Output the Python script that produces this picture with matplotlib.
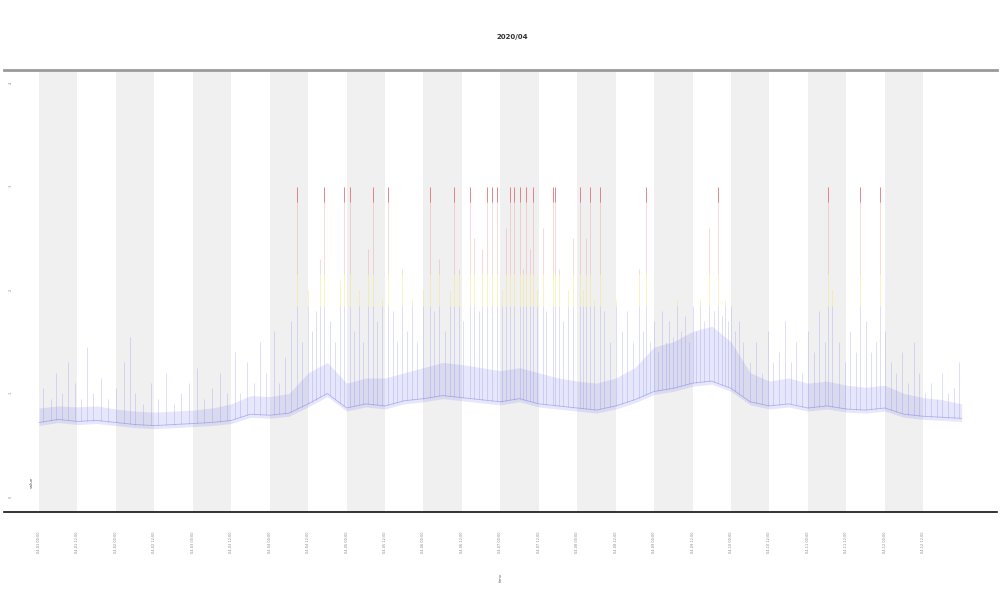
import numpy as np
import matplotlib
matplotlib.use("Agg")
import matplotlib.pyplot as plt

# ---------------- data (x in days, y in value units) ----------------
title_text = "2020/04"
x_label = "time"
y_label = "value"
legend_text = "value"

base_t = [i * 0.25 for i in range(49)]
base_v = [0.72, 0.75, 0.73, 0.74, 0.72, 0.70, 0.69, 0.70, 0.71, 0.72,
          0.74, 0.80, 0.79, 0.81, 0.90, 1.00, 0.86, 0.90, 0.88, 0.93,
          0.95, 0.98, 0.96, 0.94, 0.92, 0.95, 0.90, 0.88, 0.86, 0.84,
          0.88, 0.94, 1.02, 1.05, 1.10, 1.12, 1.05, 0.92, 0.88, 0.90,
          0.86, 0.88, 0.85, 0.84, 0.86, 0.80, 0.78, 0.77, 0.76]
env_v = [0.86, 0.88, 0.87, 0.88, 0.85, 0.83, 0.82, 0.83, 0.84, 0.86,
         0.90, 0.98, 0.97, 1.00, 1.20, 1.30, 1.10, 1.15, 1.15, 1.20,
         1.25, 1.30, 1.28, 1.25, 1.22, 1.25, 1.20, 1.15, 1.12, 1.10,
         1.15, 1.25, 1.45, 1.50, 1.60, 1.65, 1.50, 1.20, 1.12, 1.15,
         1.10, 1.12, 1.08, 1.06, 1.08, 1.00, 0.96, 0.94, 0.90]

spike_t = [0.05, 0.15, 0.22, 0.30, 0.38, 0.47, 0.55, 0.62, 0.70, 0.80, 0.90, 1.00, 1.10, 1.18,
           1.25, 1.35, 1.45, 1.55, 1.65, 1.75, 1.85, 1.95, 2.05, 2.15, 2.25, 2.35, 2.45,
           2.55, 2.62, 2.70, 2.80, 2.88, 2.95, 3.05, 3.12, 3.20, 3.28, 3.35, 3.42,
           3.50, 3.55, 3.60, 3.66, 3.71, 3.78, 3.85, 3.92, 3.97,
           4.04, 4.10, 4.16, 4.22, 4.28, 4.34, 4.40, 4.46, 4.54, 4.60, 4.66, 4.72, 4.78, 4.85,
           4.92, 5.00, 5.08, 5.14, 5.20, 5.28, 5.34, 5.40, 5.46, 5.52, 5.60, 5.66, 5.72, 5.76,
           5.82, 5.89, 5.95, 6.02, 6.07, 6.12, 6.18, 6.25, 6.30, 6.34, 6.38, 6.42, 6.48, 6.55,
           6.60, 6.68, 6.71, 6.76, 6.82, 6.88, 6.95, 7.03, 7.08, 7.12, 7.16, 7.22, 7.29, 7.35,
           7.42, 7.50, 7.58, 7.65, 7.72, 7.80,
           7.85, 7.90, 7.95, 8.00, 8.05, 8.10, 8.15, 8.20, 8.25, 8.30, 8.35, 8.40, 8.45, 8.50,
           8.55, 8.60, 8.65, 8.72, 8.78, 8.83, 8.88, 8.92, 8.96, 9.00, 9.05, 9.10, 9.15,
           9.25, 9.32, 9.40, 9.48, 9.55, 9.62, 9.70, 9.78, 9.85, 9.92, 10.00, 10.08, 10.15,
           10.22, 10.26, 10.32, 10.40, 10.48, 10.55, 10.62, 10.68, 10.75, 10.82, 10.88, 10.94,
           11.00, 11.08, 11.15, 11.22, 11.30, 11.38, 11.45, 11.52, 11.60, 11.68, 11.75, 11.82,
           11.90, 11.97]
spike_v = [1.05, 0.95, 1.20, 1.00, 1.30, 1.10, 0.95, 1.45, 1.00, 1.15, 0.95, 1.05, 1.30, 1.55,
           1.00, 0.90, 1.10, 0.95, 1.20, 0.90, 1.00, 1.10, 1.25, 0.95, 1.05, 1.20, 1.00,
           1.40, 1.00, 1.30, 1.10, 1.50, 1.20, 1.60, 1.10, 1.35, 1.70, 3.00, 1.50,
           2.00, 1.60, 1.80, 2.30, 3.00, 1.70, 1.50, 2.10, 3.00,
           3.00, 1.60, 2.00, 1.50, 2.40, 3.00, 1.70, 1.90, 3.00, 1.80, 1.50, 2.20, 1.60, 1.90,
           1.50, 2.00, 3.00, 1.80, 2.30, 1.60, 2.00, 3.00, 2.20, 1.70, 3.00, 2.50, 1.80, 2.40,
           3.00, 3.00, 3.00, 2.00, 2.60, 3.00, 3.00, 3.00, 2.20, 3.00, 2.40, 3.00, 2.00, 2.60,
           1.80, 3.00, 3.00, 2.20, 1.70, 2.00, 2.50, 3.00, 2.00, 2.50, 3.00, 1.90, 3.00, 1.80,
           1.50, 1.90, 1.60, 1.80, 1.50, 2.20,
           1.60, 3.00, 1.50, 1.70, 1.40, 1.80, 1.50, 1.70, 1.55, 1.90, 1.60, 1.75, 1.50, 1.85,
           1.60, 1.90, 1.70, 2.60, 1.80, 3.00, 1.75, 1.90, 1.70, 1.85, 1.60, 1.70, 1.50,
           1.30, 1.50, 1.20, 1.60, 1.30, 1.40, 1.70, 1.30, 1.50, 1.20, 1.60, 1.40, 1.80,
           1.50, 3.00, 2.00, 1.50, 1.30, 1.60, 1.40, 3.00, 1.70, 1.40, 1.50, 3.00,
           1.60, 1.30, 1.20, 1.40, 1.10, 1.50, 1.20, 1.00, 1.10, 0.95, 1.20, 1.00,
           1.05, 1.30]

day_ticks = [i * 0.5 for i in range(24)]
tick_labels = ["04-%02d %s" % (1 + i // 2, "00:00" if i % 2 == 0 else "12:00") for i in range(24)]
y_ticks = [0, 1, 2, 3, 4]
y_tick_labels = ["0", "1", "2", "3", "4"]
band_starts = list(range(12))

# ---------------- drawing ----------------
fig = plt.figure(figsize=(10, 6), dpi=100)
ax = fig.add_axes([0.004, 0.1467, 0.993, 0.7366])

for b in band_starts:
    ax.axvspan(b, b + 0.5, color="#f0f0f0", zorder=0, lw=0)

bt = np.array(base_t)
bv = np.array(base_v)
ev = np.array(env_v)
ax.fill_between(bt, bv - 0.03, ev, color="#6a6ae8", alpha=0.16, lw=0, zorder=1)
ax.plot(bt, bv, color="#6060e0", lw=0.6, alpha=0.4, zorder=2)

st = np.array(spike_t)
sv = np.array(spike_v)
sb = np.interp(st, bt, bv)
y1, y2 = 1.85, 2.15
ax.vlines(st, sb, np.minimum(sv, y1), color="#7a7af0", lw=0.5, alpha=0.35, zorder=3)
m = sv > y1
ax.vlines(st[m], y1, np.minimum(sv[m], y2), color="#f2e36a", lw=0.6, alpha=0.5, zorder=3)
m2 = sv > y2
ax.vlines(st[m2], y2, sv[m2], color="#ea7070", lw=0.6, alpha=0.3, zorder=3)
m3 = sv >= 2.9
ax.vlines(st[m3], 2.85, sv[m3], color="#e05050", lw=0.7, alpha=0.6, zorder=3)

ax.set_xlim(-0.456, 12.46)
ax.set_ylim(-0.145, 4.126)

ax.set_xticks(day_ticks)
ax.set_xticklabels(tick_labels, rotation=90, fontsize=2.5, color="#888888")
ax.set_yticks(y_ticks)
ax.set_yticklabels(y_tick_labels, rotation=90, fontsize=2.5, color="#888888")
ax.tick_params(axis="x", length=0, pad=14)
ax.tick_params(axis="y", length=0, pad=-6)
ax.set_xlabel(x_label, fontsize=3, color="#666666", rotation=90, labelpad=14)
ax.set_ylabel(y_label, fontsize=3, color="#888888")
ax.yaxis.set_label_coords(-0.002, 0.5)

for s in ["left", "right"]:
    ax.spines[s].set_visible(False)
ax.spines["top"].set_color("#9a9a9a")
ax.spines["top"].set_linewidth(2)
ax.spines["bottom"].set_color("#111111")
ax.spines["bottom"].set_linewidth(1.2)

ax.text(0.028, 0.068, legend_text, transform=ax.transAxes, rotation=90, fontsize=3,
        color="#555555", ha="center", va="center")

fig.text(0.512, 0.938, title_text, fontsize=5, fontweight="bold", color="#333333",
         ha="center", va="center")

fig.savefig("out.png", dpi=100)
